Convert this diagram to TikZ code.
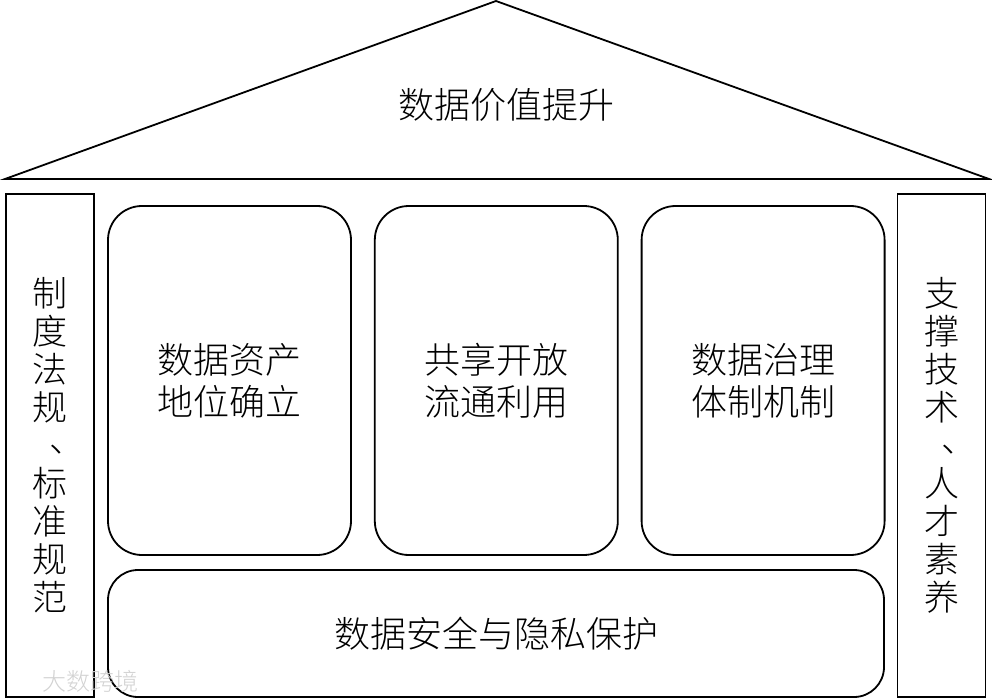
\documentclass[tikz,border=0pt]{standalone}
\usepackage{fontspec}
\setmainfont{Noto Sans CJK SC}[UprightFont=* Light]
\usetikzlibrary{positioning}

\newcommand{\vdun}{\raisebox{6pt}[0pt][0pt]{\makebox[35pt][l]{\hspace{17pt}、}}}

\begin{document}
\begin{tikzpicture}[x=1pt,y=-1pt,line width=1.8pt,node distance=22pt,
        pillar/.style={draw,minimum width=88pt,minimum height=503pt,inner sep=0pt,
            align=center,font=\fontsize{35}{38}\selectfont},
        block/.style={draw,rounded corners=34pt,minimum width=243pt,minimum height=349pt,
            inner sep=0pt,align=center,font=\fontsize{36}{42}\selectfont},
        base/.style={draw,rounded corners=30pt,minimum width=776pt,minimum height=127pt,
            inner sep=0pt,font=\fontsize{36}{42}\selectfont}]
            \useasboundingbox (0,0) rectangle (992,700);
            % roof
            \coordinate (eave_l) at (5,179);
            \coordinate (apex)   at (496,1);
            \coordinate (eave_r) at (989,179);
            \draw (eave_l) -- (apex) -- (eave_r) -- cycle;
            \node[font=\fontsize{36}{42}\selectfont] (roof) at (506,105) {数据价值提升};
            % pillars
            \node[pillar] (p_l) at (50,445.5) {制\\度\\法\\规\\\vdun\\标\\准\\规\\范};
            \node[pillar] (p_r) at (941.5,445.5) {支\\撑\\技\\术\\\vdun\\人\\才\\素\\养};
            % rooms
            \node[block] (b_1) at (229.5,380.5) {数据资产\\地位确立};
            \node[block] (b_2) [right=of b_1] {共享开放\\流通利用};
            \node[block] (b_3) [right=of b_2] {数据治理\\体制机制};
            \node[base]  (b_0) at (496,633.5) {数据安全与隐私保护};
            % watermark
            \node[text=gray!35,font=\fontsize{24}{26}\selectfont] (mark) at (90,681) {大数跨境};
        \end{tikzpicture}
\end{document}
